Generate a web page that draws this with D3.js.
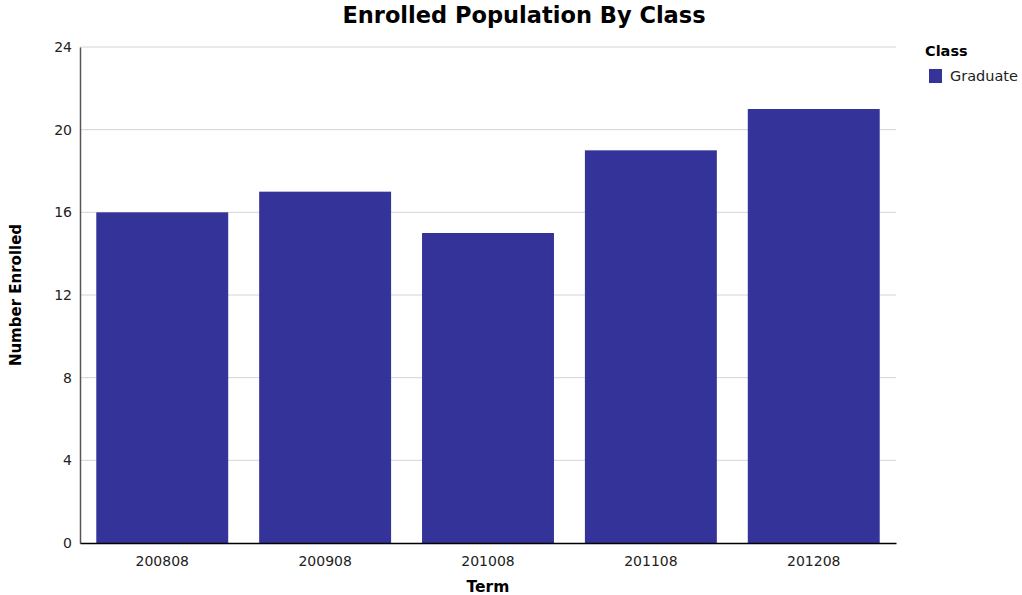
<!DOCTYPE html>
<html>
<head>
<meta charset="utf-8">
<script src="https://cdn.jsdelivr.net/npm/d3@7"></script>
<style>
  body { margin: 0; background: #fff; }
  text { font-family: "DejaVu Sans", sans-serif; }
</style>
</head>
<body>
<script>
// chart data
var terms = ['200808', '200908', '201008', '201108', '201208'];
var graduate = [16, 17, 15, 19, 21];
var yTicks = [0, 4, 8, 12, 16, 20, 24];

var W = 1022, H = 595;
var pLeft = 80, pRight = 896, pTop = 47, pBottom = 543;

var svg = d3.select('body').append('svg').attr('width', W).attr('height', H);

var x = d3.scaleBand().domain(terms).range([pLeft, pRight])
    .paddingInner(0.19).paddingOuter(0.1);
var y = d3.scaleLinear().domain([0, 24]).range([pBottom, pTop]);

// grid lines
svg.append('g').selectAll('line').data(yTicks.slice(1)).enter().append('line')
    .attr('x1', pLeft).attr('x2', pRight)
    .attr('y1', function(d){ return y(d); }).attr('y2', function(d){ return y(d); })
    .attr('stroke', '#d4d4d4').attr('stroke-width', 1);

// bars
svg.append('g').selectAll('rect').data(graduate).enter().append('rect')
    .attr('x', function(d, i){ return x(terms[i]); })
    .attr('y', function(d){ return y(d); })
    .attr('width', x.bandwidth())
    .attr('height', function(d){ return y(0) - y(d); })
    .attr('fill', '#333399');

// y axis
var yAxis = svg.append('g').attr('transform', 'translate(' + pLeft + ',0)')
    .call(d3.axisLeft(y).tickValues(yTicks).tickSize(0).tickPadding(8));
yAxis.select('.domain').attr('stroke', '#555').attr('stroke-width', 1.5);
yAxis.selectAll('text').attr('font-size', 14).attr('fill', '#222');

// x axis
var xAxis = svg.append('g').attr('transform', 'translate(0,' + pBottom + ')')
    .call(d3.axisBottom(x).tickSize(0).tickPadding(13));
xAxis.select('.domain').attr('stroke', '#000').attr('stroke-width', 1.5);
xAxis.selectAll('text').attr('font-size', 14).attr('fill', '#222');

// title and axis titles
svg.append('text').attr('x', 524).attr('y', 23).attr('text-anchor', 'middle')
    .attr('font-size', 22.5).attr('font-weight', 'bold').text('Enrolled Population By Class');
svg.append('text').attr('x', 488).attr('y', 592).attr('text-anchor', 'middle')
    .attr('font-size', 15.5).attr('font-weight', 'bold').text('Term');
svg.append('text').attr('transform', 'translate(21,295) rotate(-90)').attr('text-anchor', 'middle')
    .attr('font-size', 15).attr('font-weight', 'bold').text('Number Enrolled');

// legend
svg.append('text').attr('x', 925).attr('y', 56).attr('font-size', 14.5)
    .attr('font-weight', 'bold').text('Class');
svg.append('rect').attr('x', 929).attr('y', 69).attr('width', 13).attr('height', 14).attr('fill', '#333399');
svg.append('text').attr('x', 950).attr('y', 81).attr('font-size', 14.5).attr('fill', '#222').text('Graduate');
</script>
</body>
</html>
